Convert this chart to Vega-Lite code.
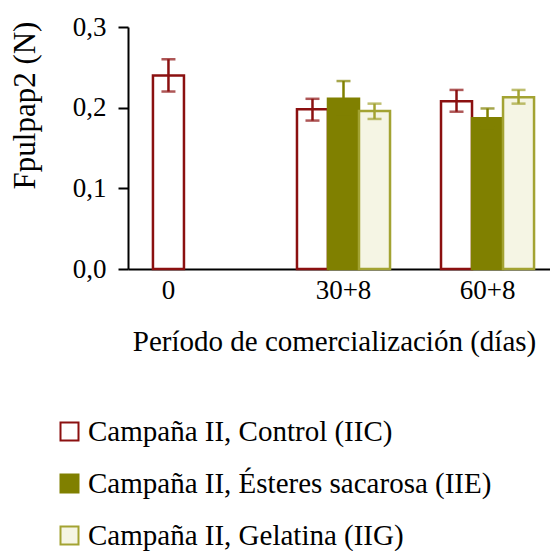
{
  "$schema": "https://vega.github.io/schema/vega-lite/v6.json",
  "width": 422,
  "height": 242,
  "autosize": {"type": "none"},
  "padding": {"left": 128, "top": 27, "right": 0, "bottom": 282},
  "background": "white",
  "config": {
    "view": {"stroke": null},
    "font": "Liberation Serif, Times New Roman, serif",
    "axis": {
      "labelFont": "Liberation Serif, Times New Roman, serif",
      "titleFont": "Liberation Serif, Times New Roman, serif",
      "labelColor": "black",
      "titleColor": "black",
      "titleFontWeight": "normal",
      "grid": false
    },
    "legend": {
      "labelFont": "Liberation Serif, Times New Roman, serif",
      "labelColor": "black"
    }
  },
  "data": {
    "values": [
      {"periodo": "0", "serie": "Campaña II, Control (IIC)", "media": 0.240, "inf": 0.220, "sup": 0.260},
      {"periodo": "30+8", "serie": "Campaña II, Control (IIC)", "media": 0.198, "inf": 0.184, "sup": 0.211},
      {"periodo": "30+8", "serie": "Campaña II, Ésteres sacarosa (IIE)", "media": 0.211, "inf": 0.189, "sup": 0.233},
      {"periodo": "30+8", "serie": "Campaña II, Gelatina (IIG)", "media": 0.196, "inf": 0.186, "sup": 0.205},
      {"periodo": "60+8", "serie": "Campaña II, Control (IIC)", "media": 0.208, "inf": 0.195, "sup": 0.222},
      {"periodo": "60+8", "serie": "Campaña II, Ésteres sacarosa (IIE)", "media": 0.187, "inf": 0.175, "sup": 0.199},
      {"periodo": "60+8", "serie": "Campaña II, Gelatina (IIG)", "media": 0.213, "inf": 0.205, "sup": 0.222}
    ]
  },
  "encoding": {
    "x": {
      "field": "periodo",
      "type": "nominal",
      "sort": ["0", "30+8", "60+8"],
      "scale": {"domain": ["0", "30+8", "60+8"], "paddingInner": 0.354, "paddingOuter": 0.142, "align": 0.61},
      "title": "Período de comercialización (días)",
      "axis": {
        "labelAngle": 0,
        "labelFontSize": 27,
        "labelPadding": 8,
        "labelOffset": {"condition": {"test": "datum.value === '0'", "value": -31}, "value": 0},
        "ticks": false,
        "tickSize": 0,
        "domainColor": "black",
        "domainWidth": 2,
        "titleFontSize": 29,
        "titlePadding": 24,
        "titleX": 206,
        "titleAlign": "center"
      }
    },
    "xOffset": {
      "field": "serie",
      "type": "nominal",
      "scale": {
        "domain": ["Campaña II, Control (IIC)", "Campaña II, Ésteres sacarosa (IIE)", "Campaña II, Gelatina (IIG)"],
        "paddingInner": 0,
        "paddingOuter": 0
      }
    }
  },
  "layer": [
    {
      "mark": {"type": "bar", "strokeWidth": 2.5},
      "encoding": {
        "y": {
          "field": "media",
          "type": "quantitative",
          "scale": {"domain": [0, 0.3], "nice": false},
          "title": "Fpulpap2 (N)",
          "axis": {
            "values": [0, 0.1, 0.2, 0.3],
            "labelExpr": "replace(format(datum.value, '.1f'), '.', ',')",
            "labelFontSize": 27,
            "labelPadding": 12,
            "tickSize": 10,
            "tickWidth": 2,
            "tickColor": "black",
            "domainColor": "black",
            "domainWidth": 2,
            "titleFontSize": 31,
            "titleAngle": -90,
            "titleAlign": "center",
            "titleBaseline": "middle",
            "titleX": -103,
            "titleY": 78
          }
        },
        "fill": {
          "field": "serie",
          "type": "nominal",
          "scale": {
            "domain": ["Campaña II, Control (IIC)", "Campaña II, Ésteres sacarosa (IIE)", "Campaña II, Gelatina (IIG)"],
            "range": ["#ffffff", "#808000", "#f5f5e4"]
          },
          "legend": {
            "title": null,
            "orient": "none",
            "legendX": -73,
            "legendY": 390,
            "direction": "vertical",
            "symbolType": "square",
            "symbolSize": 324,
            "symbolStrokeWidth": 2,
            "labelFontSize": 29,
            "labelOffset": 4,
            "labelLimit": 500,
            "rowPadding": 22
          }
        },
        "stroke": {
          "field": "serie",
          "type": "nominal",
          "scale": {
            "domain": ["Campaña II, Control (IIC)", "Campaña II, Ésteres sacarosa (IIE)", "Campaña II, Gelatina (IIG)"],
            "range": ["#8b1010", "#808000", "#a3a332"]
          },
          "legend": {
            "title": null,
            "orient": "none",
            "legendX": -73,
            "legendY": 390,
            "direction": "vertical",
            "symbolType": "square",
            "symbolSize": 324,
            "symbolStrokeWidth": 2,
            "labelFontSize": 29,
            "labelOffset": 4,
            "labelLimit": 500,
            "rowPadding": 22
          }
        }
      }
    },
    {
      "mark": {"type": "rule", "strokeWidth": 2.5},
      "encoding": {
        "y": {"field": "inf", "type": "quantitative"},
        "y2": {"field": "sup"},
        "color": {
          "field": "serie",
          "type": "nominal",
          "scale": {
            "domain": ["Campaña II, Control (IIC)", "Campaña II, Ésteres sacarosa (IIE)", "Campaña II, Gelatina (IIG)"],
            "range": ["#8b1010", "#808000", "#a3a332"]
          },
          "legend": null
        }
      }
    },
    {
      "mark": {"type": "tick", "size": 14, "thickness": 2.5},
      "encoding": {
        "y": {"field": "inf", "type": "quantitative"},
        "color": {"field": "serie", "type": "nominal", "legend": null}
      }
    },
    {
      "mark": {"type": "tick", "size": 14, "thickness": 2.5},
      "encoding": {
        "y": {"field": "sup", "type": "quantitative"},
        "color": {"field": "serie", "type": "nominal", "legend": null}
      }
    }
  ]
}
